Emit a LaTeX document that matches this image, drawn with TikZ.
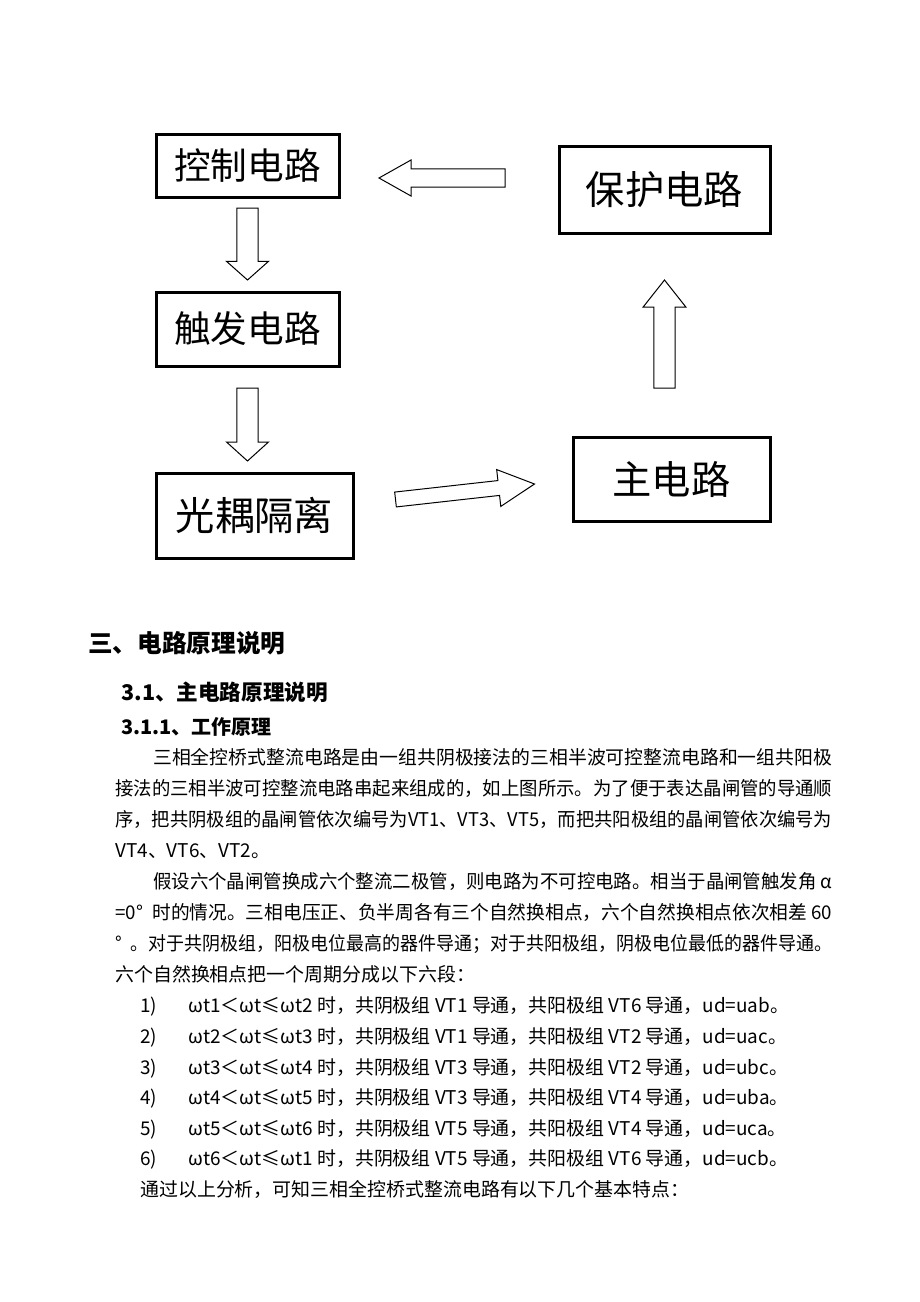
\documentclass[tikz,border=0pt]{standalone}
\usepackage{graphicx}
\usepackage{fontspec}
\setmainfont{Noto Sans CJK SC}
\usepackage{tikz}
\usetikzlibrary{calc}

\newcommand{\bodyfont}{\fontsize{14.2pt}{18pt}\selectfont}
\newcommand{\jline}[2]{\resizebox{#1}{\height}{#2}}
% hollow block arrow: tail, tip, shaft half width, head half width, head length
\newcommand{\hollowarrow}[5]{%
  \coordinate (ha-m) at ($(#2)!#5!(#1)$);
  \draw [hollow] ($(#1)!#3!90:(#2)$) -- ($(ha-m)!#3!90:(#2)$) -- ($(ha-m)!#4!90:(#2)$) -- (#2) -- ($(ha-m)!#4!-90:(#2)$) -- ($(ha-m)!#3!-90:(#2)$) -- ($(#1)!#3!-90:(#2)$) -- cycle ;
}

\begin{document}
\begin{tikzpicture}[x=0.75pt,y=0.75pt,yscale=-1,xscale=1,
  blk/.style={draw, line width=2.25pt, inner sep=0pt, outer sep=0pt},
  hollow/.style={draw, line width=0.75pt, line join=miter},
  txtline/.style={anchor=base west, inner sep=0pt, font=\bodyfont}]
\useasboundingbox[fill=white] (0,0) rectangle (920,1302);

%Shape: Rectangle
\draw (247.5,166) node (ctrl) [blk, minimum width=137.25pt, minimum height=46.5pt, font=\fontsize{27.5pt}{30pt}\selectfont] {控制电路};
%Shape: Rectangle
\draw (247.5,329) node (trig) [blk, minimum width=137.25pt, minimum height=55.5pt, font=\fontsize{27.5pt}{30pt}\selectfont] {触发电路};
%Shape: Rectangle
\draw (254.5,515.5) node (opto) [blk, minimum width=147.75pt, minimum height=63.75pt, font=\fontsize{29.5pt}{32pt}\selectfont] {光耦隔离};
%Shape: Rectangle
\draw (664.5,190) node (prot) [blk, minimum width=158.25pt, minimum height=64.5pt, font=\fontsize{29.5pt}{32pt}\selectfont] {保护电路};
%Shape: Rectangle
\draw (671.5,479) node (main) [blk, minimum width=147.75pt, minimum height=63pt, font=\fontsize{29.5pt}{32pt}\selectfont] {主电路};

%Right Arrow
\coordinate (c1a) at ($(ctrl.south)+(0,11)$);
\coordinate (c1b) at ($(trig.north)+(0,-12)$);
\hollowarrow{c1a}{c1b}{7.9pt}{15.75pt}{14pt}
%Right Arrow
\coordinate (c2a) at ($(trig.south)+(0,22)$);
\coordinate (c2b) at ($(trig.south |- opto.north)+(0,-12)$);
\hollowarrow{c2a}{c2b}{7.9pt}{15.75pt}{14.25pt}
%Right Arrow
\coordinate (c3a) at ($(opto.east)+(42.5,-16)$);
\coordinate (c3b) at ($(main.west)+(-38.5,5)$);
\hollowarrow{c3a}{c3b}{5.6pt}{13.9pt}{27pt}
%Right Arrow
\coordinate (c4a) at ($(prot.south |- main.north)+(0,-49)$);
\coordinate (c4b) at ($(prot.south)+(0,47)$);
\hollowarrow{c4a}{c4b}{7.9pt}{16pt}{20.25pt}
%Right Arrow
\coordinate (c5a) at ($(prot.west)+(-54,-12)$);
\coordinate (c5b) at ($(ctrl.east)+(40,12)$);
\hollowarrow{c5a}{c5b}{6.75pt}{13.5pt}{24pt}

% Text Node
\draw (88,652.4) node (h1) [anchor=base west, inner sep=0pt, font=\fontsize{18.5pt}{22pt}\selectfont\bfseries] {三、电路原理说明};
% Text Node
\draw (121,700) node (h2) [anchor=base west, inner sep=0pt, font=\fontsize{16.2pt}{20pt}\selectfont\bfseries] {3.1、主电路原理说明};
% Text Node
\draw (121,734.6) node (h3) [anchor=base west, inner sep=0pt, font=\fontsize{15pt}{18pt}\selectfont\bfseries] {3.1.1、工作原理};

% Text Node
\draw (153,764) node (p1) [txtline] {\jline{509.25pt}{三相全控桥式整流电路是由一组共阴极接法的三相半波可控整流电路和一组共阳极}};
% Text Node
\draw (115,795) node (p2) [txtline] {\jline{537.75pt}{接法的三相半波可控整流电路串起来组成的，如上图所示。为了便于表达晶闸管的导通顺}};
% Text Node
\draw (115,826) node (p3) [txtline] {\jline{537.75pt}{序，把共阴极组的晶闸管依次编号为VT1、VT3、VT5，而把共阳极组的晶闸管依次编号为}};
% Text Node
\draw (115,857) node (p4) [txtline] {VT4、VT6、VT2。};
% Text Node
\draw (153,888) node (p5) [txtline] {\jline{509.25pt}{假设六个晶闸管换成六个整流二极管，则电路为不可控电路。相当于晶闸管触发角 α}};
% Text Node
\draw (115,919) node (p6) [txtline] {\jline{537.75pt}{=0°\enspace 时的情况。三相电压正、负半周各有三个自然换相点，六个自然换相点依次相差 60}};
% Text Node
\draw (115,950) node (p7) [txtline] {\jline{537.75pt}{°\enspace 。对于共阴极组，阳极电位最高的器件导通；对于共阳极组，阴极电位最低的器件导通。}};
% Text Node
\draw (115,981) node (p8) [txtline] {六个自然换相点把一个周期分成以下六段：};

% Text Node
\draw (140,1012) node (i1) [txtline] {\makebox[36pt][l]{1)}ωt1＜ωt≤ωt2 时，共阴极组 VT1 导通，共阳极组 VT6 导通，ud=uab。};
% Text Node
\draw (140,1043) node (i2) [txtline] {\makebox[36pt][l]{2)}ωt2＜ωt≤ωt3 时，共阴极组 VT1 导通，共阳极组 VT2 导通，ud=uac。};
% Text Node
\draw (140,1074) node (i3) [txtline] {\makebox[36pt][l]{3)}ωt3＜ωt≤ωt4 时，共阴极组 VT3 导通，共阳极组 VT2 导通，ud=ubc。};
% Text Node
\draw (140,1104) node (i4) [txtline] {\makebox[36pt][l]{4)}ωt4＜ωt≤ωt5 时，共阴极组 VT3 导通，共阳极组 VT4 导通，ud=uba。};
% Text Node
\draw (140,1135) node (i5) [txtline] {\makebox[36pt][l]{5)}ωt5＜ωt≤ωt6 时，共阴极组 VT5 导通，共阳极组 VT4 导通，ud=uca。};
% Text Node
\draw (140,1165) node (i6) [txtline] {\makebox[36pt][l]{6)}ωt6＜ωt≤ωt1 时，共阴极组 VT5 导通，共阳极组 VT6 导通，ud=ucb。};
% Text Node
\draw (140,1196) node (p9) [txtline] {通过以上分析，可知三相全控桥式整流电路有以下几个基本特点：};

\end{tikzpicture}
\end{document}
